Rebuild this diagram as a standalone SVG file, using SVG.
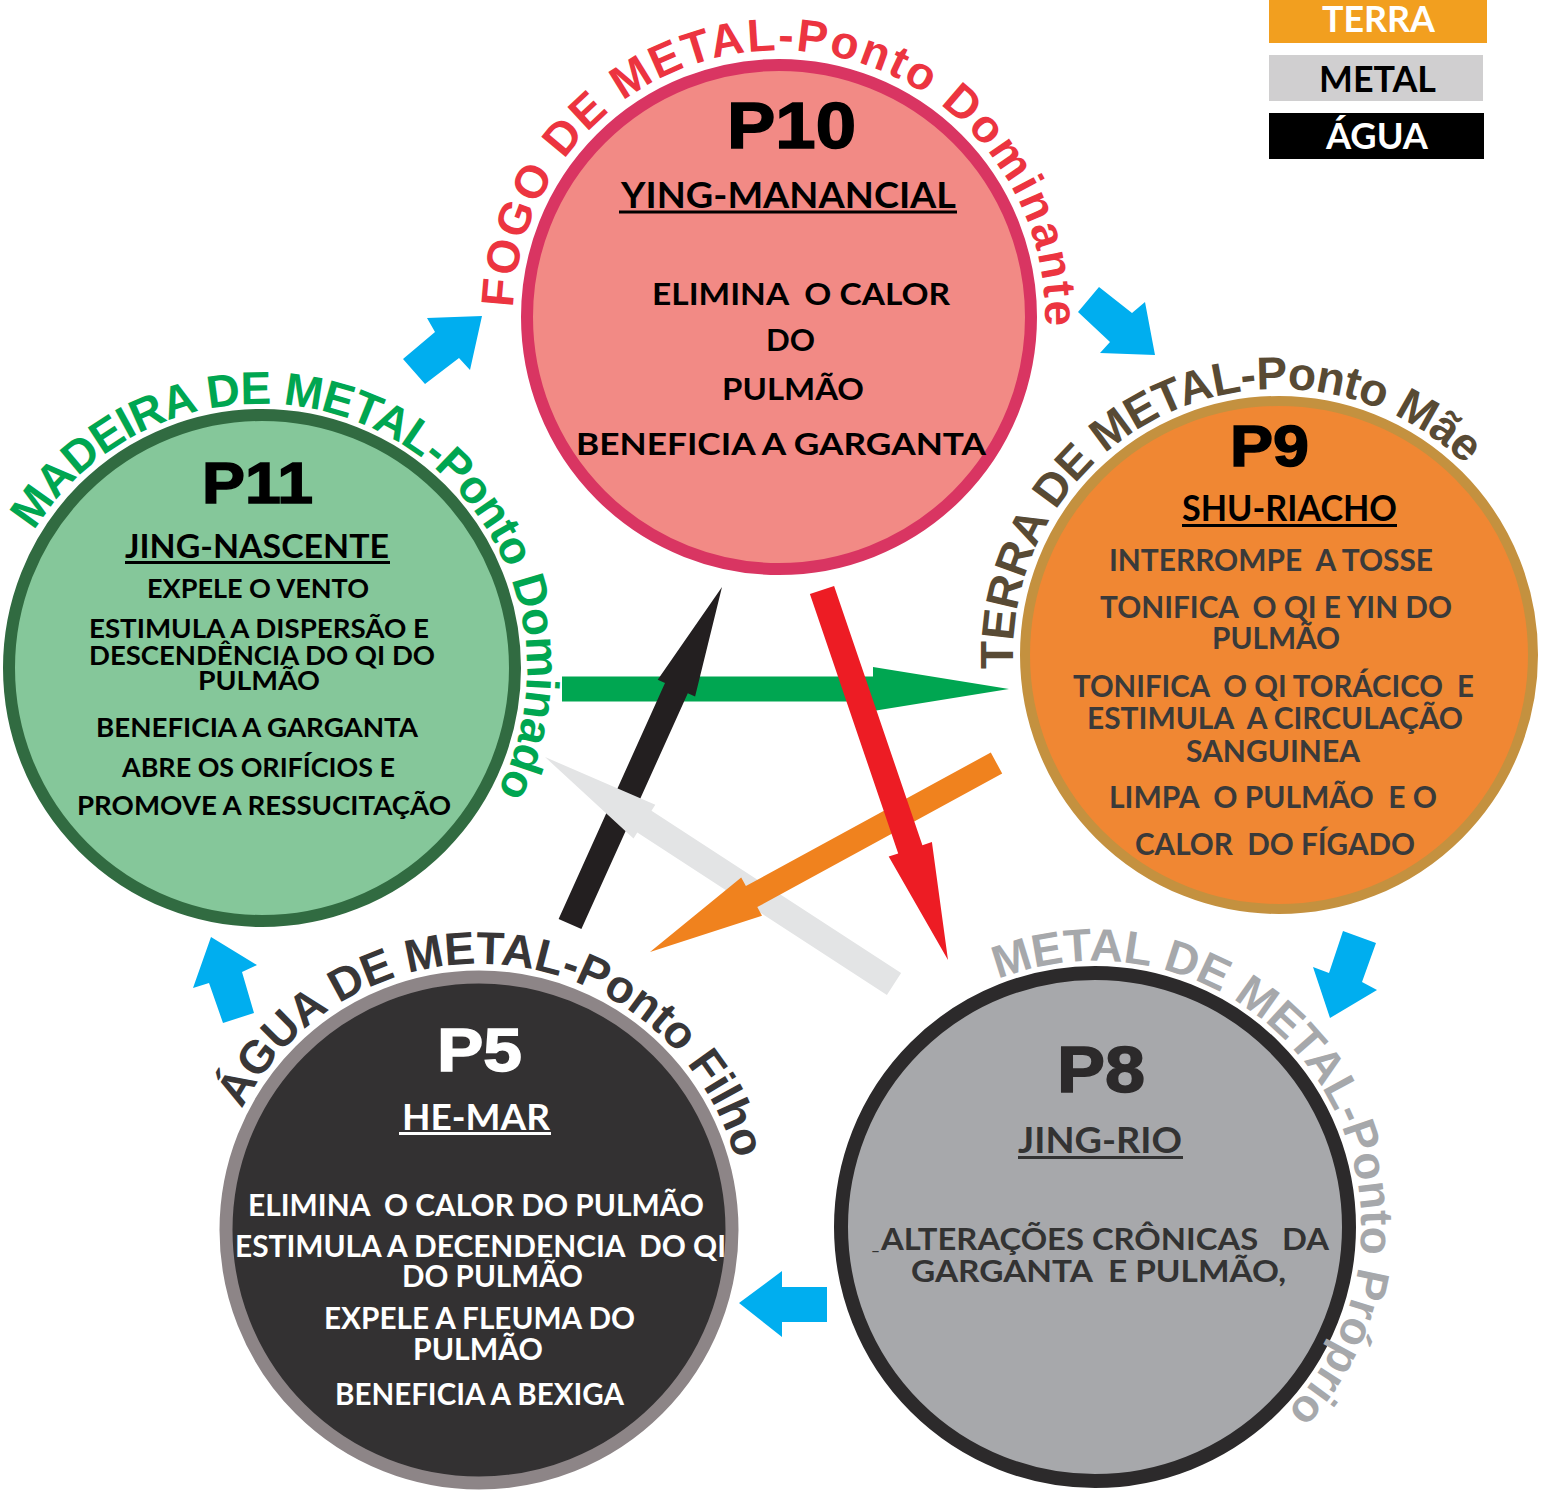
<svg xmlns="http://www.w3.org/2000/svg" width="1544" height="1493" viewBox="0 0 1544 1493">
<style>
.ring{font-family:"Liberation Sans",Arial,sans-serif;font-weight:700;font-size:46px}
.big{font-family:"Liberation Sans",Arial,sans-serif;font-weight:700;text-anchor:middle;stroke-width:1.5}
.t{font-family:Lato,"Open Sans",sans-serif;font-weight:700;text-anchor:middle}
.h{font-size:36px}
.b{font-size:31px}
.s{font-size:26px}
.blue{fill:#00aeef}
</style>
<defs>
<path id="arc10" d="M 513.2 307.7 A 266 266 0 1 1 1044.0 340.2"/>
<path id="arc11" d="M 34.0 531.0 A 266 266 0 1 1 487.6 809.0"/>
<path id="arc9" d="M 1013.4 668.9 A 266 266 0 0 1 1482.8 484.0"/>
<path id="arc5" d="M 242.0 1109.2 A 266 266 0 0 1 741.0 1183.8"/>
<path id="arc8" d="M 997.9 979.3 A 266 266 0 0 1 1266.0 1430.8"/>
</defs>

<g id="connectors">
  <g id="star">
    <polygon id="arrow-green" fill="#00a651" points="562,676.5 873,676.5 873,667 1009,689 873,711 873,701.5 562,701.5"/>
    <polygon id="arrow-black" fill="#231f20" points="581.4,929.1 687.8,693.3 695.1,696.6 722,587 657.7,679.8 665,683.1 558.6,918.9"/>
    <polygon id="arrow-gray" fill="#e3e4e5" points="901.1,973.1 651.5,810.7 655.3,804.8 545,757 633.5,838.4 637.3,832.5 886.9,994.9"/>
    <polygon id="arrow-orange" fill="#f0821e" points="1002.2,773.5 757.3,907.1 762,915.7 650,952 741.2,877.5 745.9,886.1 990.8,752.5"/>
    <polygon id="arrow-red" fill="#ed1c24" points="834.1,585.9 922.4,845.2 931.9,842 948,960 888.7,856.6 898.2,853.4 809.9,594.1"/>
  </g>
  <g id="cycle">
    <polygon class="blue" points="482,316 427,318 435,332 403,359 425,384 459,358 470,370"/>
    <polygon class="blue" points="1155,355 1100,353 1110,342 1078,312 1099,287 1132,313 1145,302"/>
    <polygon class="blue" points="1330,1018 1313,967 1329,973 1343,931 1376,943 1362,982 1377,990"/>
    <polygon class="blue" points="739,1303 782,1271 782,1287 827,1287 827,1322 782,1322 782,1337"/>
    <polygon class="blue" points="211,937 193,988 209,983 223,1023 254,1013 242,972 257,965"/>
  </g>
</g>

<g id="node-p10">
  <circle cx="779" cy="317" r="252" fill="#f28a85" stroke="#d93562" stroke-width="12"/>
  <text class="ring" fill="#ec3440"><textPath href="#arc10" textLength="836" lengthAdjust="spacing">FOGO DE METAL-Ponto Dominante</textPath></text>
  <text class="big" x="791.5" y="148" font-size="64" fill="#000" stroke="#000" textLength="129" lengthAdjust="spacingAndGlyphs">P10</text>
  <text class="t h" x="788.5" y="208" font-size="37" fill="#000" textLength="335" lengthAdjust="spacingAndGlyphs">YING-MANANCIAL</text>
  <rect x="619" y="210.5" width="338" height="3" fill="#000"/>
  <text class="t b" x="801" y="305" fill="#000" xml:space="preserve" textLength="298" lengthAdjust="spacingAndGlyphs">ELIMINA  O CALOR</text>
  <text class="t b" x="790.5" y="351" fill="#000" textLength="49" lengthAdjust="spacingAndGlyphs">DO</text>
  <text class="t b" x="793" y="400" fill="#000" textLength="142" lengthAdjust="spacingAndGlyphs">PULMÃO</text>
  <text class="t b" x="781" y="455" fill="#000" textLength="410" lengthAdjust="spacingAndGlyphs">BENEFICIA A GARGANTA</text>
</g>

<g id="node-p11">
  <circle cx="262" cy="668" r="253" fill="#85c79a" stroke="#316b41" stroke-width="12"/>
  <text class="ring" fill="#00a651"><textPath href="#arc11" textLength="816" lengthAdjust="spacing">MADEIRA DE METAL-Ponto Dominado</textPath></text>
  <text class="big" x="257.5" y="503" font-size="58" fill="#000" stroke="#000" textLength="111" lengthAdjust="spacingAndGlyphs">P11</text>
  <text class="t" x="257" y="558" font-size="32" fill="#000" textLength="264" lengthAdjust="spacingAndGlyphs">JING-NASCENTE</text>
  <rect x="125" y="561" width="265" height="3" fill="#000"/>
  <text class="t s" x="258" y="598" fill="#000" textLength="222" lengthAdjust="spacingAndGlyphs">EXPELE O VENTO</text>
  <text class="t s" x="259" y="638" fill="#000" textLength="340" lengthAdjust="spacingAndGlyphs">ESTIMULA A DISPERSÃO E</text>
  <text class="t s" x="262" y="665" fill="#000" textLength="346" lengthAdjust="spacingAndGlyphs">DESCENDÊNCIA DO QI DO</text>
  <text class="t s" x="259" y="690" fill="#000" textLength="122" lengthAdjust="spacingAndGlyphs">PULMÃO</text>
  <text class="t s" x="257" y="737" fill="#000" textLength="322" lengthAdjust="spacingAndGlyphs">BENEFICIA A GARGANTA</text>
  <text class="t s" x="258.5" y="777" fill="#000" textLength="273" lengthAdjust="spacingAndGlyphs">ABRE OS ORIFÍCIOS E</text>
  <text class="t s" x="264" y="815" fill="#000" textLength="374" lengthAdjust="spacingAndGlyphs">PROMOVE A RESSUCITAÇÃO</text>
</g>

<g id="node-p9">
  <circle cx="1279" cy="655" r="254" fill="#f08733" stroke="#c4913f" stroke-width="10"/>
  <text class="ring" fill="#584a34"><textPath href="#arc9" textLength="638" lengthAdjust="spacing">TERRA DE METAL-Ponto Mãe</textPath></text>
  <text class="big" x="1269.5" y="466" font-size="58" fill="#000" stroke="#000" textLength="79" lengthAdjust="spacingAndGlyphs">P9</text>
  <text class="t h" x="1289.5" y="521" fill="#000" textLength="215" lengthAdjust="spacingAndGlyphs">SHU-RIACHO</text>
  <rect x="1182" y="524" width="215" height="3" fill="#000"/>
  <text class="t b" x="1271" y="571" fill="#3a3a3a" xml:space="preserve" textLength="324" lengthAdjust="spacingAndGlyphs">INTERROMPE  A TOSSE</text>
  <text class="t b" x="1276" y="618" fill="#3a3a3a" xml:space="preserve" textLength="352" lengthAdjust="spacingAndGlyphs">TONIFICA  O QI E YIN DO</text>
  <text class="t b" x="1276" y="649" fill="#3a3a3a" textLength="128" lengthAdjust="spacingAndGlyphs">PULMÃO</text>
  <text class="t b" x="1273.5" y="697" fill="#3a3a3a" xml:space="preserve" textLength="401" lengthAdjust="spacingAndGlyphs">TONIFICA  O QI TORÁCICO  E</text>
  <text class="t b" x="1275" y="729" fill="#3a3a3a" xml:space="preserve" textLength="376" lengthAdjust="spacingAndGlyphs">ESTIMULA  A CIRCULAÇÃO</text>
  <text class="t b" x="1273" y="762" fill="#3a3a3a" textLength="174" lengthAdjust="spacingAndGlyphs">SANGUINEA</text>
  <text class="t b" x="1273" y="808" fill="#3a3a3a" xml:space="preserve" textLength="328" lengthAdjust="spacingAndGlyphs">LIMPA  O PULMÃO  E O</text>
  <text class="t b" x="1275" y="855" fill="#3a3a3a" xml:space="preserve" textLength="280" lengthAdjust="spacingAndGlyphs">CALOR  DO FÍGADO</text>
</g>

<g id="node-p5">
  <circle cx="479" cy="1230" r="253" fill="#333132" stroke="#8d8587" stroke-width="13"/>
  <text class="ring" fill="#383637"><textPath href="#arc5" textLength="639" lengthAdjust="spacing">ÁGUA DE METAL-Ponto Filho</textPath></text>
  <text class="big" x="479.5" y="1071" font-size="62" fill="#fff" stroke="#fff" textLength="85" lengthAdjust="spacingAndGlyphs">P5</text>
  <text class="t h" x="476" y="1130" fill="#fff" textLength="148" lengthAdjust="spacingAndGlyphs">HE-MAR</text>
  <rect x="399" y="1132" width="152" height="3" fill="#fff"/>
  <text class="t b" x="476" y="1216" fill="#fff" xml:space="preserve" textLength="456" lengthAdjust="spacingAndGlyphs">ELIMINA  O CALOR DO PULMÃO</text>
  <text class="t b" x="480.5" y="1257" fill="#fff" xml:space="preserve" textLength="491" lengthAdjust="spacingAndGlyphs">ESTIMULA A DECENDENCIA  DO QI</text>
  <text class="t b" x="492.5" y="1287" fill="#fff" textLength="181" lengthAdjust="spacingAndGlyphs">DO PULMÃO</text>
  <text class="t b" x="479.5" y="1329" fill="#fff" textLength="311" lengthAdjust="spacingAndGlyphs">EXPELE A FLEUMA DO</text>
  <text class="t b" x="478" y="1360" fill="#fff" textLength="130" lengthAdjust="spacingAndGlyphs">PULMÃO</text>
  <text class="t b" x="479.5" y="1405" fill="#fff" textLength="289" lengthAdjust="spacingAndGlyphs">BENEFICIA A BEXIGA</text>
</g>

<g id="node-p8">
  <circle cx="1095" cy="1227" r="254" fill="#a7a8ab" stroke="#2c2a2b" stroke-width="14"/>
  <text class="ring" fill="#a6a8ab"><textPath href="#arc8" textLength="721" lengthAdjust="spacing">METAL DE METAL-Ponto Próprio</textPath></text>
  <text class="big" x="1101" y="1092" font-size="64" fill="#2c2a2b" stroke="#2c2a2b" textLength="88" lengthAdjust="spacingAndGlyphs">P8</text>
  <text class="t h" x="1100" y="1153" fill="#333" textLength="164" lengthAdjust="spacingAndGlyphs">JING-RIO</text>
  <rect x="1018" y="1156" width="165" height="3" fill="#333"/>
  <text class="t" x="875.5" y="1250" font-size="16" fill="#333">_</text>
  <text class="t b" x="1105" y="1250" fill="#333" xml:space="preserve" textLength="448" lengthAdjust="spacingAndGlyphs">ALTERAÇÕES CRÔNICAS   DA</text>
  <text class="t b" x="1098.5" y="1282" fill="#333" xml:space="preserve" textLength="375" lengthAdjust="spacingAndGlyphs">GARGANTA  E PULMÃO,</text>
</g>

<g id="legend">
  <rect x="1269" y="0" width="218" height="43" fill="#f29f1f"/>
  <text class="t h" x="1378.5" y="32" fill="#fff" textLength="113" lengthAdjust="spacingAndGlyphs">TERRA</text>
  <rect x="1269" y="55" width="214" height="46" fill="#d0cfd0"/>
  <text class="t h" x="1377.5" y="92" fill="#000" textLength="117" lengthAdjust="spacingAndGlyphs">METAL</text>
  <rect x="1269" y="113" width="215" height="46" fill="#000"/>
  <text class="t h" x="1377" y="149" fill="#fff" textLength="102" lengthAdjust="spacingAndGlyphs">ÁGUA</text>
</g>
</svg>
